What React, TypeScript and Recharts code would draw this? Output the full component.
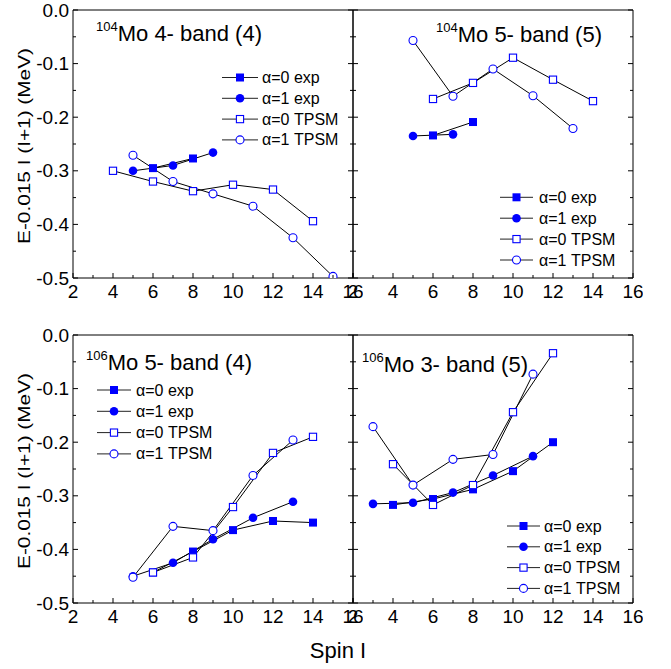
import { Line, LineChart, ReferenceLine, XAxis, YAxis } from 'recharts';

const FONT = "Arial, 'Liberation Sans', sans-serif";
const BLUE = '#0000ff';

const spinTicks = [2, 3, 4, 5, 6, 7, 8, 9, 10, 11, 12, 13, 14, 15, 16];
const energyTicks = [0, -0.05, -0.1, -0.15, -0.2, -0.25, -0.3, -0.35, -0.4, -0.45, -0.5];
const legendLabels = ['α=0 exp', 'α=1 exp', 'α=0 TPSM', 'α=1 TPSM'];

// 104Mo 4- band (4)
const a0ExpSpinA = [6, 8];
const a0ExpA = [-0.295, -0.277];
const a1ExpSpinA = [5, 7, 9];
const a1ExpA = [-0.3, -0.29, -0.266];
const a0TpsmSpinA = [4, 6, 8, 10, 12, 14];
const a0TpsmA = [-0.3, -0.32, -0.338, -0.326, -0.335, -0.394];
const a1TpsmSpinA = [5, 7, 9, 11, 13, 15];
const a1TpsmA = [-0.271, -0.32, -0.343, -0.366, -0.425, -0.497];

// 104Mo 5- band (5)
const a0ExpSpinB = [6, 8];
const a0ExpB = [-0.234, -0.209];
const a1ExpSpinB = [5, 7];
const a1ExpB = [-0.235, -0.232];
const a0TpsmSpinB = [6, 8, 10, 12, 14];
const a0TpsmB = [-0.166, -0.136, -0.089, -0.13, -0.17];
const a1TpsmSpinB = [5, 7, 9, 11, 13];
const a1TpsmB = [-0.057, -0.161, -0.11, -0.16, -0.221];

// 106Mo 5- band (4)
const a0ExpSpinC = [6, 8, 10, 12, 14];
const a0ExpC = [-0.443, -0.404, -0.364, -0.347, -0.35];
const a1ExpSpinC = [5, 7, 9, 11, 13];
const a1ExpC = [-0.45, -0.425, -0.381, -0.341, -0.311];
const a0TpsmSpinC = [6, 8, 10, 12, 14];
const a0TpsmC = [-0.443, -0.415, -0.321, -0.22, -0.19];
const a1TpsmSpinC = [5, 7, 9, 11, 13];
const a1TpsmC = [-0.452, -0.357, -0.365, -0.262, -0.196];

// 106Mo 3- band (5)
const a0ExpSpinD = [4, 6, 8, 10, 12];
const a0ExpD = [-0.317, -0.306, -0.288, -0.254, -0.2];
const a1ExpSpinD = [3, 5, 7, 9, 11];
const a1ExpD = [-0.315, -0.313, -0.294, -0.262, -0.226];
const a0TpsmSpinD = [4, 6, 8, 10, 12];
const a0TpsmD = [-0.241, -0.317, -0.28, -0.144, -0.034];
const a1TpsmSpinD = [3, 5, 7, 9, 11];
const a1TpsmD = [-0.171, -0.28, -0.232, -0.223, -0.073];

type Pt = { x: number; y: number };
const pts = (s: number[], e: number[]): Pt[] => s.map((x, i) => ({ x, y: e[i] }));

type Marker = 'fs' | 'fc' | 'os' | 'oc';
const markers: Marker[] = ['fs', 'fc', 'os', 'oc'];

function drawMarker(kind: Marker, cx: number, cy: number, key?: string) {
  if (kind === 'fs') return <rect key={key} x={cx - 4} y={cy - 4} width={8} height={8} fill={BLUE} />;
  if (kind === 'fc') return <circle key={key} cx={cx} cy={cy} r={4.3} fill={BLUE} />;
  if (kind === 'os')
    return <rect key={key} x={cx - 3.6} y={cy - 3.6} width={7.2} height={7.2} fill="#fff" stroke={BLUE} strokeWidth={1.1} />;
  return <circle key={key} cx={cx} cy={cy} r={4} fill="#fff" stroke={BLUE} strokeWidth={1.1} />;
}

const isMajor = (v: number, step: number) => Math.abs(Math.round(v / step) - v / step) < 1e-6;

function xTick(p: any, showLabels: boolean) {
  const v = p.payload.value;
  const major = isMajor(v, 2);
  return (
    <g>
      <line x1={p.x} x2={p.x} y1={p.y} y2={p.y - (major ? 5 : 3)} stroke="#000" />
      {major && showLabels && (
        <text x={p.x} y={p.y + 20} textAnchor="middle" fontSize={19} fontFamily={FONT} fill="#000">
          {v}
        </text>
      )}
    </g>
  );
}

function yTick(p: any, side: 'left' | 'right', showLabels: boolean) {
  const v = p.payload.value;
  const major = isMajor(v, 0.1);
  const len = major ? 5 : 3;
  const dir = side === 'left' ? 1 : -1;
  return (
    <g>
      <line x1={p.x} x2={p.x + dir * len} y1={p.y} y2={p.y} stroke="#000" />
      {major && showLabels && (
        <text x={p.x - 4} y={p.y + 6.5} textAnchor="end" fontSize={19} fontFamily={FONT} fill="#000">
          {v.toFixed(1)}
        </text>
      )}
    </g>
  );
}

type PanelProps = {
  px: number;
  py: number;
  yLabels: boolean;
  series: Pt[][];
};

function Panel({ px, py, yLabels, series }: PanelProps) {
  return (
    <div style={{ position: 'absolute', left: px - 60, top: py - 10 }}>
      <LineChart width={350} height={313} margin={{ top: 10, right: 0, bottom: 0, left: 0 }}>
        <XAxis
          type="number"
          dataKey="x"
          domain={[2, 16]}
          ticks={spinTicks}
          interval={0}
          height={35}
          tickSize={0}
          tickMargin={0}
          tickLine={false}
          axisLine={{ stroke: '#000' }}
          tick={(p: any) => xTick(p, true)}
          allowDataOverflow
        />
        <YAxis
          yAxisId="l"
          type="number"
          domain={[-0.5, 0]}
          ticks={energyTicks}
          interval={0}
          width={60}
          tickSize={0}
          tickMargin={0}
          tickLine={false}
          axisLine={{ stroke: '#000' }}
          tick={(p: any) => yTick(p, 'left', yLabels)}
          allowDataOverflow
        />
        <YAxis
          yAxisId="r"
          orientation="right"
          type="number"
          domain={[-0.5, 0]}
          ticks={energyTicks}
          interval={0}
          width={10}
          tickSize={0}
          tickMargin={0}
          tickLine={false}
          axisLine={{ stroke: '#000' }}
          tick={(p: any) => yTick(p, 'right', false)}
          allowDataOverflow
        />
        <ReferenceLine yAxisId="l" y={0} stroke="#000" />
        {series.map((d, i) => (
          <Line
            key={i}
            yAxisId="l"
            data={d}
            dataKey="y"
            type="linear"
            stroke="#000"
            strokeWidth={1}
            activeDot={false}
            isAnimationActive={false}
            dot={(p: any) => drawMarker(markers[i], p.cx, p.cy, `m${i}-${p.index}`)}
          />
        ))}
      </LineChart>
    </div>
  );
}

function Legend({ x1, x2, tx, y0, step }: { x1: number; x2: number; tx: number; y0: number; step: number }) {
  return (
    <g>
      {legendLabels.map((lab, i) => {
        const y = y0 + i * step;
        return (
          <g key={lab}>
            <line x1={x1} x2={x2} y1={y} y2={y} stroke="#222" />
            {drawMarker(markers[i], (x1 + x2) / 2, y)}
            <text x={tx} y={y + 5.5} fontSize={16} fontFamily={FONT} fill="#000">
              {lab}
            </text>
          </g>
        );
      })}
    </g>
  );
}

function Title({ x, y, sup, main }: { x: number; y: number; sup: string; main: string }) {
  return (
    <text x={x} y={y} fontFamily={FONT} fill="#000">
      <tspan fontSize={13} dy={-10}>{sup}</tspan>
      <tspan fontSize={22} dy={10}>{main}</tspan>
    </text>
  );
}

function YLabel({ cy }: { cy: number }) {
  return (
    <text
      transform={`translate(24,${cy}) rotate(-90)`}
      textAnchor="middle"
      dominantBaseline="central"
      fontSize={16.5}
      textLength={196}
      lengthAdjust="spacingAndGlyphs"
      fontFamily={FONT}
      fill="#000"
    >
      E-0.015 I (I+1) (MeV)
    </text>
  );
}

export default function App() {
  return (
    <div style={{ position: 'absolute', left: 0, top: 0, width: 671, height: 669, background: '#fff' }}>
      <Panel px={73} py={10} yLabels series={[pts(a0ExpSpinA, a0ExpA), pts(a1ExpSpinA, a1ExpA), pts(a0TpsmSpinA, a0TpsmA), pts(a1TpsmSpinA, a1TpsmA)]} />
      <Panel px={353} py={10} yLabels={false} series={[pts(a0ExpSpinB, a0ExpB), pts(a1ExpSpinB, a1ExpB), pts(a0TpsmSpinB, a0TpsmB), pts(a1TpsmSpinB, a1TpsmB)]} />
      <Panel px={73} py={335} yLabels series={[pts(a0ExpSpinC, a0ExpC), pts(a1ExpSpinC, a1ExpC), pts(a0TpsmSpinC, a0TpsmC), pts(a1TpsmSpinC, a1TpsmC)]} />
      <Panel px={353} py={335} yLabels={false} series={[pts(a0ExpSpinD, a0ExpD), pts(a1ExpSpinD, a1ExpD), pts(a0TpsmSpinD, a0TpsmD), pts(a1TpsmSpinD, a1TpsmD)]} />
      <svg width={671} height={669} style={{ position: 'absolute', left: 0, top: 0, pointerEvents: 'none' }}>
        <Title x={96} y={41} sup="104" main="Mo 4- band (4)" />
        <Title x={436} y={42} sup="104" main="Mo 5- band (5)" />
        <Title x={86} y={370} sup="106" main="Mo 5- band (4)" />
        <Title x={362} y={372} sup="106" main="Mo 3- band (5)" />
        <Legend x1={222} x2={258} tx={262} y0={77.5} step={20.8} />
        <Legend x1={500} x2={533} tx={539} y0={197.3} step={20.9} />
        <Legend x1={97} x2={131} tx={136} y0={390} step={21.3} />
        <Legend x1={507} x2={540} tx={544} y0={526} step={20.8} />
        <YLabel cy={146} />
        <YLabel cy={471} />
        <text x={338} y={658} textAnchor="middle" fontSize={22} fontFamily={FONT} fill="#000">
          Spin I
        </text>
      </svg>
    </div>
  );
}
